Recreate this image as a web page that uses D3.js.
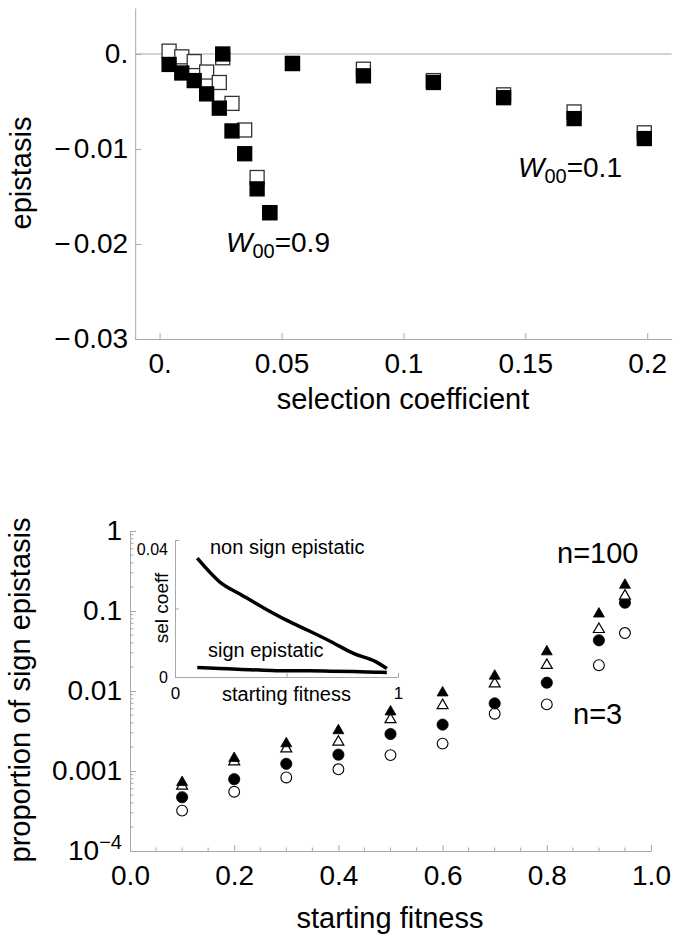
<!DOCTYPE html>
<html><head><meta charset="utf-8">
<script src="https://cdn.jsdelivr.net/npm/d3@7"></script>
<style>
body{margin:0;background:#fff}
svg{display:block}
text{font-family:"Liberation Sans",Arial,sans-serif;fill:#000}
</style>
</head><body>
<svg id="c" width="684" height="939"></svg>
<script>
// ---------- Top panel data ----------
const selW09 = [0.0039, 0.0091, 0.0142, 0.0193, 0.0245, 0.0297, 0.0349, 0.0400, 0.0452];
const epiOpenW09 = [0.0003, -0.0003, -0.0008, -0.0019, -0.0030, -0.0052, -0.0080, -0.0130, -0.0167];
const epiFilledW09 = [-0.0011, -0.0020, -0.0028, -0.0042, -0.0057, -0.0081, -0.0105, -0.0142, -0.0167];
const selW01 = [0.0259, 0.0545, 0.0836, 0.1123, 0.1411, 0.1700, 0.1988];
const epiOpenW01 = [-0.0004, -0.0010, -0.0016, -0.0028, -0.0043, -0.0061, -0.0083];
const epiFilledW01 = [0.0000, -0.0010, -0.0023, -0.0030, -0.0046, -0.0068, -0.0089];
const topXTicks = [0, 0.05, 0.1, 0.15, 0.2];
const topXTickLabels = ["0.", "0.05", "0.1", "0.15", "0.2"];
const topYTicks = [0, -0.01, -0.02, -0.03];
const topYTickLabels = ["0.", "\u22120.01", "\u22120.02", "\u22120.03"];

// ---------- Bottom panel data ----------
const fitness = [0.1, 0.2, 0.3, 0.4, 0.5, 0.6, 0.7, 0.8, 0.9, 0.95];
const filledTri = [7.2e-4, 1.44e-3, 2.2e-3, 3.2e-3, 5.5e-3, 9.5e-3, 1.54e-2, 3.1e-2, 9.2e-2, 0.211];
const openTri = [6.5e-4, 1.31e-3, 1.9e-3, 2.3e-3, 4.4e-3, 6.6e-3, 1.23e-2, 2.1e-2, 5.9e-2, 0.154];
const filledCirc = [4.7e-4, 7.9e-4, 1.23e-3, 1.6e-3, 2.9e-3, 3.8e-3, 7.0e-3, 1.27e-2, 4.3e-2, 0.127];
const openCirc = [3.2e-4, 5.5e-4, 8.3e-4, 1.05e-3, 1.58e-3, 2.2e-3, 5.2e-3, 6.8e-3, 2.1e-2, 5.3e-2];
const botXTicks = [0, 0.2, 0.4, 0.6, 0.8, 1.0];
const botXTickLabels = ["0.0", "0.2", "0.4", "0.6", "0.8", "1.0"];
const botYTicks = [1, 0.1, 0.01, 0.001, 1e-4];
const botYTickLabels = ["1", "0.1", "0.01", "0.001", "10^\u22124"];

// ---------- Inset data ----------
const selNonSign = [0.0347, 0.0278, 0.0239, 0.0201, 0.0166, 0.0135, 0.0103, 0.0069, 0.0045, 0.0025];
const selSign = [0.0028, 0.0025, 0.0022, 0.0020, 0.0018, 0.0018, 0.0017, 0.0016, 0.0014, 0.0013];
const insetXTicks = [0, 0.5, 1];
const insetXTickLabels = ["0", "", "1"];
const insetYTicks = [0, 0.02, 0.04];
const insetYTickLabels = ["0", "", "0.04"];

const svg = d3.select("#c");
const AX = "#a8a8a8";

function styleAxis(g, fs) {
  g.select(".domain").attr("stroke", AX).attr("stroke-width", 1);
  g.selectAll(".tick line").attr("stroke", AX);
  g.selectAll(".tick text").attr("font-size", fs).attr("fill", "#000")
    .attr("font-family", '"Liberation Sans",Arial,sans-serif');
}

// ================= TOP PANEL =================
const xTop = d3.scaleLinear().domain([-0.01, 0.21]).range([135.2, 671.6]);
const yTop = d3.scaleLinear().domain([-0.03, 0.00484]).range([339, 8]);

svg.append("line").attr("x1", xTop(-0.01)).attr("x2", xTop(0.21))
  .attr("y1", yTop(0)).attr("y2", yTop(0)).attr("stroke", AX);

const gxTop = svg.append("g").attr("transform", `translate(0,${yTop(-0.03)})`)
  .call(d3.axisBottom(xTop).tickValues(topXTicks).tickSizeInner(-6).tickSizeOuter(0)
    .tickPadding(14).tickFormat((d, i) => topXTickLabels[i]));
styleAxis(gxTop, 28);

const gyTop = svg.append("g").attr("transform", `translate(${xTop(-0.01)},0)`)
  .call(d3.axisLeft(yTop).tickValues(topYTicks).tickSizeInner(-6).tickSizeOuter(0)
    .tickPadding(7).tickFormat(() => ""));
styleAxis(gyTop, 28);
gyTop.selectAll(".tick text").each(function (d, i) {
  const t = d3.select(this);
  const lab = topYTickLabels[i];
  if (lab[0] === "\u2212") {
    t.append("tspan").text("\u2212");
    t.append("tspan").attr("dx", 3).text(lab.slice(1));
  } else {
    t.text(lab);
  }
});

const SQ = 14;
function squares(xs, ys, filled) {
  svg.append("g").selectAll("rect").data(xs).join("rect")
    .attr("x", (d) => xTop(d) - SQ / 2)
    .attr("y", (d, i) => yTop(ys[i]) - SQ / 2)
    .attr("width", SQ).attr("height", SQ)
    .attr("fill", filled ? "#000" : "#fff")
    .attr("stroke", filled ? "#000" : "#333").attr("stroke-width", 1.3);
}
squares(selW09, epiOpenW09, false);
squares(selW01, epiOpenW01, false);
squares(selW09, epiFilledW09, true);
squares(selW01, epiFilledW01, true);

function wLabel(x, y, val) {
  const t = svg.append("text").attr("x", x).attr("y", y).attr("font-size", 28);
  t.append("tspan").attr("font-style", "italic").text("W");
  t.append("tspan").attr("font-size", 20).attr("dy", 6).text("00");
  t.append("tspan").attr("dy", -6).text("=" + val);
}
wLabel(226, 252, "0.9");
wLabel(518, 177, "0.1");

svg.append("text").attr("transform", "translate(31,173) rotate(-90)")
  .attr("text-anchor", "middle").attr("font-size", 29).text("epistasis");
svg.append("text").attr("x", 403).attr("y", 409)
  .attr("text-anchor", "middle").attr("font-size", 29).text("selection coefficient");

// ================= BOTTOM PANEL =================
const xBot = d3.scaleLinear().domain([0, 1]).range([130, 651]);
const yBot = d3.scaleLog().domain([1e-4, 1]).range([851, 531]);

// minor ticks
const minorX = d3.range(0, 1.0001, 0.05).filter(v => Math.abs(v * 5 - Math.round(v * 5)) > 1e-6);
svg.append("g").selectAll("line").data(minorX).join("line")
  .attr("x1", d => xBot(d)).attr("x2", d => xBot(d))
  .attr("y1", yBot(1e-4)).attr("y2", yBot(1e-4) - 3.5).attr("stroke", AX);
const minorY = [];
[1e-4, 1e-3, 1e-2, 1e-1].forEach(dec => { for (let k = 2; k <= 9; k++) minorY.push(dec * k); });
svg.append("g").selectAll("line").data(minorY).join("line")
  .attr("x1", xBot(0)).attr("x2", xBot(0) + 3.5)
  .attr("y1", d => yBot(d)).attr("y2", d => yBot(d)).attr("stroke", AX);

const gxBot = svg.append("g").attr("transform", `translate(0,${yBot(1e-4)})`)
  .call(d3.axisBottom(xBot).tickValues(botXTicks).tickSizeInner(-6).tickSizeOuter(0)
    .tickPadding(14).tickFormat((d, i) => botXTickLabels[i]));
styleAxis(gxBot, 28);

const gyBot = svg.append("g").attr("transform", `translate(${xBot(0)},0)`)
  .call(d3.axisLeft(yBot).tickValues(botYTicks).tickSizeInner(-6).tickSizeOuter(0)
    .tickPadding(8).tickFormat(() => ""));
styleAxis(gyBot, 28);
gyBot.selectAll(".tick text").each(function (d, i) {
  const t = d3.select(this);
  const lab = botYTickLabels[i];
  if (lab.indexOf("^") >= 0) {
    const [b, e] = lab.split("^");
    t.append("tspan").text(b);
    t.append("tspan").attr("font-size", 20).attr("dy", "-0.55em").text(e);
  } else {
    t.text(lab);
  }
});

const triSym = d3.symbol().type(d3.symbolTriangle).size(52);
function tris(ys, filled) {
  svg.append("g").selectAll("path").data(fitness).join("path")
    .attr("d", triSym)
    .attr("transform", (d, i) => `translate(${xBot(d)},${yBot(ys[i])})`)
    .attr("fill", filled ? "#000" : "#fff")
    .attr("stroke", "#000").attr("stroke-width", filled ? 0.8 : 1.2);
}
function circs(ys, filled) {
  svg.append("g").selectAll("circle").data(fitness).join("circle")
    .attr("cx", d => xBot(d)).attr("cy", (d, i) => yBot(ys[i]))
    .attr("r", filled ? 5.6 : 5.4)
    .attr("fill", filled ? "#000" : "#fff")
    .attr("stroke", "#000").attr("stroke-width", filled ? 0.8 : 1.1);
}
circs(openCirc, false);
circs(filledCirc, true);
tris(openTri, false);
tris(filledTri, true);

svg.append("text").attr("x", 557).attr("y", 563).attr("font-size", 29).text("n=100");
svg.append("text").attr("x", 573).attr("y", 724).attr("font-size", 29).text("n=3");

svg.append("text").attr("transform", "translate(30,690) rotate(-90)")
  .attr("text-anchor", "middle").attr("font-size", 29).text("proportion of sign epistasis");
svg.append("text").attr("x", 390).attr("y", 928)
  .attr("text-anchor", "middle").attr("font-size", 29).text("starting fitness");

// ================= INSET =================
const xIn = d3.scaleLinear().domain([0, 1]).range([175, 398]);
const yIn = d3.scaleLinear().domain([0, 0.04]).range([677, 540]);

const gxIn = svg.append("g").attr("transform", `translate(0,${yIn(0)})`)
  .call(d3.axisBottom(xIn).tickValues(insetXTicks).tickSizeInner(-4).tickSizeOuter(0)
    .tickPadding(10).tickFormat((d, i) => insetXTickLabels[i]));
styleAxis(gxIn, 17);
const gyIn = svg.append("g").attr("transform", `translate(${xIn(0)},0)`)
  .call(d3.axisLeft(yIn).tickValues(insetYTicks).tickSizeInner(-4).tickSizeOuter(0)
    .tickPadding(7).tickFormat((d, i) => insetYTickLabels[i]));
styleAxis(gyIn, 16);
gyIn.selectAll(".tick text").filter(d => d === 0.04).attr("dy", "0.9em");

const lineIn = (ys) => d3.line().x(d => xIn(d)).y((d, i) => yIn(ys[i])).curve(d3.curveMonotoneX)(fitness);
svg.append("path").attr("d", lineIn(selNonSign)).attr("fill", "none")
  .attr("stroke", "#000").attr("stroke-width", 3.5).attr("stroke-linejoin", "round");
svg.append("path").attr("d", lineIn(selSign)).attr("fill", "none")
  .attr("stroke", "#000").attr("stroke-width", 3.5).attr("stroke-linejoin", "round");

svg.append("text").attr("x", 210).attr("y", 554).attr("font-size", 20).text("non sign epistatic");
svg.append("text").attr("x", 208).attr("y", 657).attr("font-size", 20).text("sign epistatic");
svg.append("text").attr("transform", "translate(168,608) rotate(-90)")
  .attr("text-anchor", "middle").attr("font-size", 19).text("sel coeff");
svg.append("text").attr("x", 286.5).attr("y", 701)
  .attr("text-anchor", "middle").attr("font-size", 20).text("starting fitness");
</script>
</body></html>
